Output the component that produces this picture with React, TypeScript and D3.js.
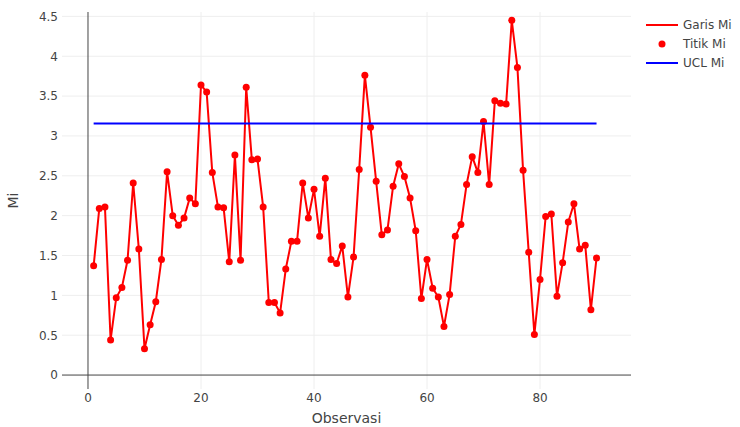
import React, { useEffect, useRef } from "react";
import * as d3 from "d3";

// Observasi 1..90
const observasi: number[] = d3.range(1, 91);

const miValues: number[] = [
  1.37, 2.09, 2.11, 0.44, 0.97, 1.1, 1.44, 2.41, 1.58, 0.33,
  0.63, 0.92, 1.45, 2.55, 2.0, 1.88, 1.97, 2.22, 2.15, 3.64,
  3.55, 2.54, 2.11, 2.1, 1.42, 2.76, 1.44, 3.61, 2.7, 2.71,
  2.11, 0.91, 0.91, 0.78, 1.33, 1.68, 1.68, 2.41, 1.97, 2.33,
  1.74, 2.47, 1.45, 1.4, 1.62, 0.98, 1.48, 2.58, 3.76, 3.11,
  2.43, 1.76, 1.82, 2.37, 2.65, 2.49, 2.22, 1.81, 0.96, 1.45,
  1.09, 0.98, 0.61, 1.01, 1.74, 1.89, 2.39, 2.74, 2.54, 3.18,
  2.39, 3.44, 3.41, 3.4, 4.45, 3.86, 2.57, 1.54, 0.51, 1.2,
  1.99, 2.02, 0.99, 1.41, 1.92, 2.15, 1.58, 1.63, 0.82, 1.47,
];

const uclMi = 3.155;

const xTicks = [0, 20, 40, 60, 80];
const yTicks = [0, 0.5, 1, 1.5, 2, 2.5, 3, 3.5, 4, 4.5];

const legendItems = ["Garis Mi", "Titik Mi", "UCL Mi"];

const width = 740;
const height = 427;
const plotLeft = 62;
const plotRight = 631;
const plotTop = 12;
const plotBottom = 389;
const font = "'DejaVu Sans', Verdana, sans-serif";

const MiChart = () => {
  const svgRef = useRef<SVGSVGElement | null>(null);

  useEffect(() => {
    const svg = d3.select(svgRef.current);
    svg.selectAll("*").remove();

    const x = d3.scaleLinear().domain([-4.6, 96.1]).range([plotLeft, plotRight]);
    const y = d3.scaleLinear().domain([-0.175, 4.555]).range([plotBottom, plotTop]);

    svg.append("rect").attr("width", width).attr("height", height).attr("fill", "white");

    // grid
    const grid = svg.append("g");
    grid
      .selectAll("line.gy")
      .data(yTicks.filter((d) => d !== 0))
      .enter()
      .append("line")
      .attr("x1", plotLeft)
      .attr("x2", plotRight)
      .attr("y1", (d) => y(d))
      .attr("y2", (d) => y(d))
      .attr("stroke", "#eee")
      .attr("stroke-width", 1);
    grid
      .selectAll("line.gx")
      .data(xTicks.filter((d) => d !== 0))
      .enter()
      .append("line")
      .attr("y1", plotTop)
      .attr("y2", plotBottom)
      .attr("x1", (d) => x(d))
      .attr("x2", (d) => x(d))
      .attr("stroke", "#eee")
      .attr("stroke-width", 1);

    // zero lines
    svg
      .append("line")
      .attr("x1", plotLeft)
      .attr("x2", plotRight)
      .attr("y1", y(0))
      .attr("y2", y(0))
      .attr("stroke", "#444")
      .attr("stroke-width", 1);
    svg
      .append("line")
      .attr("x1", x(0))
      .attr("x2", x(0))
      .attr("y1", plotTop)
      .attr("y2", plotBottom)
      .attr("stroke", "#444")
      .attr("stroke-width", 1);

    // tick labels
    svg
      .append("g")
      .selectAll("text")
      .data(yTicks)
      .enter()
      .append("text")
      .attr("x", plotLeft - 4)
      .attr("y", (d) => y(d))
      .attr("dy", "0.36em")
      .attr("text-anchor", "end")
      .style("font-family", font)
      .style("font-size", "12px")
      .style("fill", "#444")
      .text((d) => d3.format("~g")(d));

    svg
      .append("g")
      .selectAll("text")
      .data(xTicks)
      .enter()
      .append("text")
      .attr("x", (d) => x(d))
      .attr("y", plotBottom + 13)
      .attr("text-anchor", "middle")
      .style("font-family", font)
      .style("font-size", "12px")
      .style("fill", "#444")
      .text((d) => d);

    // axis titles
    svg
      .append("text")
      .attr("x", (plotLeft + plotRight) / 2)
      .attr("y", 423)
      .attr("text-anchor", "middle")
      .style("font-family", font)
      .style("font-size", "14px")
      .style("fill", "#444")
      .text("Observasi");
    svg
      .append("text")
      .attr("transform", `translate(18,${(plotTop + plotBottom) / 2}) rotate(-90)`)
      .attr("text-anchor", "middle")
      .style("font-family", font)
      .style("font-size", "14px")
      .style("fill", "#444")
      .text("Mi");

    const data = observasi.map((o, i) => ({ o, v: miValues[i] }));

    // Garis Mi
    const line = d3
      .line<{ o: number; v: number }>()
      .x((d) => x(d.o))
      .y((d) => y(d.v));
    svg
      .append("path")
      .datum(data)
      .attr("fill", "none")
      .attr("stroke", "#ff0000")
      .attr("stroke-width", 2)
      .attr("stroke-linejoin", "round")
      .attr("d", line);

    // Titik Mi
    svg
      .append("g")
      .selectAll("circle")
      .data(data)
      .enter()
      .append("circle")
      .attr("cx", (d) => x(d.o))
      .attr("cy", (d) => y(d.v))
      .attr("r", 3.5)
      .attr("fill", "#ff0000");

    // UCL Mi
    svg
      .append("line")
      .attr("x1", x(observasi[0]))
      .attr("x2", x(observasi[observasi.length - 1]))
      .attr("y1", y(uclMi))
      .attr("y2", y(uclMi))
      .attr("stroke", "#0000ff")
      .attr("stroke-width", 2);

    // legend
    const legend = svg.append("g").attr("transform", "translate(646,25)");
    legendItems.forEach((label, i) => {
      const g = legend.append("g").attr("transform", `translate(0,${i * 19})`);
      if (i === 1) {
        g.append("circle").attr("cx", 16).attr("cy", 0).attr("r", 3.5).attr("fill", "#ff0000");
      } else {
        g.append("line")
          .attr("x1", 0)
          .attr("x2", 32)
          .attr("y1", 0)
          .attr("y2", 0)
          .attr("stroke", i === 0 ? "#ff0000" : "#0000ff")
          .attr("stroke-width", 2);
      }
      g.append("text")
        .attr("x", 37)
        .attr("y", 0)
        .attr("dy", "0.36em")
        .style("font-family", font)
        .style("font-size", "12px")
        .style("fill", "#444")
        .text(label);
    });
  }, []);

  return <svg width={width} height={height} ref={svgRef}></svg>;
};

export default function App() {
  return (
    <div style={{ position: "absolute", left: 0, top: 0 }}>
      <MiChart />
    </div>
  );
}
